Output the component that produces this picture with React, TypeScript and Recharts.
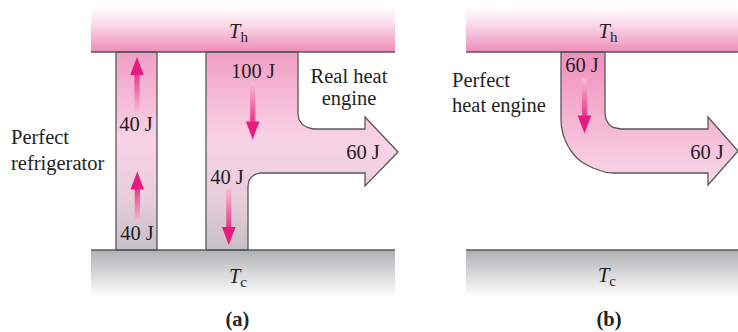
import { ComposedChart, Area, Line, Scatter, XAxis, YAxis } from 'recharts';

// Diagram space: x 0–738, y 0–332 (y grows downward).

type Band = { x: number; top: number; bottom: number };
type Pt = { x: number; y: number };
type Txt = { x: number; y: number; text: string; sub?: string };
type Arrow = { x: number; tail: number; tip: number };

// ─── Reservoirs ──────────────────────────────────────────────────────────────
const hotA: Band[] = [
  { x: 91, top: 6, bottom: 52 },
  { x: 395, top: 6, bottom: 52 },
];
const coldA: Band[] = [
  { x: 91, top: 250, bottom: 297 },
  { x: 395, top: 250, bottom: 297 },
];
const hotB: Band[] = [
  { x: 466, top: 6, bottom: 52 },
  { x: 738, top: 6, bottom: 52 },
];
const coldB: Band[] = [
  { x: 466, top: 250, bottom: 297 },
  { x: 738, top: 250, bottom: 297 },
];
const hotEdgeA: Pt[] = [{ x: 91, y: 52 }, { x: 395, y: 52 }];
const coldEdgeA: Pt[] = [{ x: 91, y: 250 }, { x: 395, y: 250 }];
const hotEdgeB: Pt[] = [{ x: 466, y: 52 }, { x: 738, y: 52 }];
const coldEdgeB: Pt[] = [{ x: 466, y: 250 }, { x: 738, y: 250 }];

// ─── Flow shapes (upper / lower outline at each x) ───────────────────────────
const fridge: Band[] = [
  { x: 116, top: 250, bottom: 250 },
  { x: 116, top: 52, bottom: 250 },
  { x: 157, top: 52, bottom: 250 },
  { x: 157, top: 250, bottom: 250 },
];

const realEngine: Band[] = [
  { x: 206, top: 250, bottom: 250 },
  { x: 206, top: 52, bottom: 250 },
  { x: 248, top: 52, bottom: 250 },
  { x: 248, top: 52, bottom: 186 },
  { x: 249, top: 52, bottom: 180.5 },
  { x: 251.5, top: 52, bottom: 177 },
  { x: 255, top: 52, bottom: 174.5 },
  { x: 260, top: 52, bottom: 173 },
  { x: 298, top: 52, bottom: 173 },
  { x: 298, top: 114, bottom: 173 },
  { x: 299, top: 119.5, bottom: 173 },
  { x: 302.5, top: 124.5, bottom: 173 },
  { x: 307.5, top: 127.5, bottom: 173 },
  { x: 313, top: 129, bottom: 173 },
  { x: 365, top: 129, bottom: 173 },
  { x: 365, top: 117, bottom: 186 },
  { x: 398, top: 152, bottom: 152 },
];

const perfectEngine: Band[] = [
  { x: 561, top: 120, bottom: 120 },
  { x: 561, top: 52, bottom: 120 },
  { x: 561.5, top: 52, bottom: 127 },
  { x: 563, top: 52, bottom: 134 },
  { x: 565, top: 52, bottom: 140 },
  { x: 568, top: 52, bottom: 146 },
  { x: 571.5, top: 52, bottom: 151.5 },
  { x: 576, top: 52, bottom: 157 },
  { x: 581, top: 52, bottom: 161.5 },
  { x: 587, top: 52, bottom: 165 },
  { x: 593, top: 52, bottom: 168 },
  { x: 600, top: 52, bottom: 170.5 },
  { x: 605, top: 52, bottom: 172 },
  { x: 605, top: 113, bottom: 172 },
  { x: 606, top: 119, bottom: 172.3 },
  { x: 609, top: 124.5, bottom: 172.7 },
  { x: 613, top: 127.5, bottom: 173 },
  { x: 621, top: 129, bottom: 173 },
  { x: 708, top: 129, bottom: 173 },
  { x: 708, top: 117, bottom: 185 },
  { x: 738, top: 151, bottom: 151 },
];

// ─── Small energy arrows ─────────────────────────────────────────────────────
const arrows: Arrow[] = [
  { x: 137, tail: 112, tip: 57 },
  { x: 137.3, tail: 222, tip: 171.5 },
  { x: 252.7, tail: 82.5, tip: 139.5 },
  { x: 228.8, tail: 189, tip: 245 },
  { x: 584.5, tail: 78, tip: 133.5 },
];

// ─── Texts ───────────────────────────────────────────────────────────────────
const sideLabels: Txt[] = [
  { x: 11, y: 144, text: 'Perfect' },
  { x: 11, y: 170, text: 'refrigerator' },
  { x: 452, y: 87, text: 'Perfect' },
  { x: 452, y: 112, text: 'heat engine' },
];
const flowLabels: Txt[] = [
  { x: 136, y: 131, text: '40 J' },
  { x: 137, y: 240, text: '40 J' },
  { x: 253, y: 78, text: '100 J' },
  { x: 349, y: 83, text: 'Real heat' },
  { x: 349, y: 105, text: 'engine' },
  { x: 227, y: 184, text: '40 J' },
  { x: 363, y: 159, text: '60 J' },
  { x: 582, y: 71.5, text: '60 J' },
  { x: 707, y: 159, text: '60 J' },
];
const tempLabels: Txt[] = [
  { x: 238.5, y: 38, text: 'T', sub: 'h' },
  { x: 608, y: 38, text: 'T', sub: 'h' },
  { x: 238, y: 283, text: 'T', sub: 'c' },
  { x: 607, y: 282, text: 'T', sub: 'c' },
];
const panelLabels: Txt[] = [
  { x: 237.5, y: 326, text: '(a)' },
  { x: 609, y: 326, text: '(b)' },
];

const W = 738;
const H = 332;
const FONT = "'Liberation Serif', 'Times New Roman', serif";
const INK = '#231f20';
const EDGE = '#58585a';
const MAGENTA = '#e8197f';
const SHAFT = 2.6;
const HEAD_W = 6.8;
const HEAD_L = 18;

const band = (d: Band) => [d.top, d.bottom];

function shaftOf(a: Arrow): Band[] {
  const down = a.tip > a.tail;
  const base = down ? a.tip - HEAD_L + 1 : a.tip + HEAD_L - 1;
  const top = Math.min(a.tail, base);
  const bottom = Math.max(a.tail, base);
  return [
    { x: a.x - SHAFT, top, bottom },
    { x: a.x + SHAFT, top, bottom },
  ];
}

function headOf(a: Arrow): Band[] {
  const down = a.tip > a.tail;
  const base = down ? a.tip - HEAD_L : a.tip + HEAD_L;
  return [
    { x: a.x - HEAD_W, top: base, bottom: base },
    { x: a.x, top: Math.min(base, a.tip), bottom: Math.max(base, a.tip) },
    { x: a.x + HEAD_W, top: base, bottom: base },
  ];
}

function makeText(anchor: 'start' | 'middle', bold = false) {
  return (props: any) => {
    const { cx, cy, payload } = props;
    return (
      <text
        x={cx}
        y={cy}
        textAnchor={anchor}
        fontFamily={FONT}
        fontSize={20.5}
        fontWeight={bold ? 'bold' : 'normal'}
        fill={INK}
      >
        {payload.sub ? (
          <>
            <tspan fontStyle="italic">{payload.text}</tspan>
            <tspan fontSize={15} dy={4}>
              {payload.sub}
            </tspan>
          </>
        ) : (
          payload.text
        )}
      </text>
    );
  };
}

export default function App() {
  const arrowMarks = arrows.flatMap((a, i) => {
    const down = a.tip > a.tail;
    return [
      <Area
        key={`shaft-${i}`}
        data={shaftOf(a)}
        dataKey={band}
        type="linear"
        stroke="none"
        fill={down ? 'url(#shaftDown)' : 'url(#shaftUp)'}
        fillOpacity={1}
        activeDot={false}
        isAnimationActive={false}
      />,
      <Area
        key={`head-${i}`}
        data={headOf(a)}
        dataKey={band}
        type="linear"
        stroke="none"
        fill={MAGENTA}
        fillOpacity={1}
        activeDot={false}
        isAnimationActive={false}
      />,
    ];
  });

  return (
    <div style={{ position: 'absolute', left: 0, top: 0, width: W, height: H, background: '#fff' }}>
      <ComposedChart width={W} height={H} margin={{ top: 0, right: 0, bottom: 0, left: 0 }}>
        <defs>
          <linearGradient id="hot" x1="0" y1="0" x2="0" y2="1">
            <stop offset="0" stopColor="#ffffff" />
            <stop offset="0.35" stopColor="#fbe1ed" />
            <stop offset="1" stopColor="#ee8cba" />
          </linearGradient>
          <linearGradient id="cold" x1="0" y1="0" x2="0" y2="1">
            <stop offset="0" stopColor="#b0b1b4" />
            <stop offset="1" stopColor="#ffffff" />
          </linearGradient>
          <linearGradient id="flowA" x1="0" y1="0" x2="0" y2="1">
            <stop offset="0" stopColor="#f29fc5" />
            <stop offset="0.45" stopColor="#f9d3e5" />
            <stop offset="0.75" stopColor="#e8cdd9" />
            <stop offset="1" stopColor="#c4c1c5" />
          </linearGradient>
          <linearGradient id="flowB" x1="0" y1="0" x2="0" y2="1">
            <stop offset="0" stopColor="#f08ebc" />
            <stop offset="0.55" stopColor="#f5b8d4" />
            <stop offset="1" stopColor="#fad8e8" />
          </linearGradient>
          <linearGradient id="shaftDown" x1="0" y1="0" x2="0" y2="1">
            <stop offset="0" stopColor="#f8bcd7" />
            <stop offset="1" stopColor="#e8368b" />
          </linearGradient>
          <linearGradient id="shaftUp" x1="0" y1="0" x2="0" y2="1">
            <stop offset="0" stopColor="#e8368b" />
            <stop offset="1" stopColor="#f8bcd7" />
          </linearGradient>
        </defs>

        <XAxis hide type="number" dataKey="x" domain={[0, W]} allowDataOverflow />
        <YAxis hide type="number" dataKey="y" domain={[0, H]} reversed allowDataOverflow />

        {/* reservoirs */}
        <Area data={hotA} dataKey={band} type="linear" stroke="none" fill="url(#hot)" fillOpacity={1} activeDot={false} isAnimationActive={false} />
        <Area data={coldA} dataKey={band} type="linear" stroke="none" fill="url(#cold)" fillOpacity={1} activeDot={false} isAnimationActive={false} />
        <Area data={hotB} dataKey={band} type="linear" stroke="none" fill="url(#hot)" fillOpacity={1} activeDot={false} isAnimationActive={false} />
        <Area data={coldB} dataKey={band} type="linear" stroke="none" fill="url(#cold)" fillOpacity={1} activeDot={false} isAnimationActive={false} />

        {/* energy flows */}
        <Area data={fridge} dataKey={band} type="linear" stroke={EDGE} strokeWidth={1.3} fill="url(#flowA)" fillOpacity={1} activeDot={false} isAnimationActive={false} />
        <Area data={realEngine} dataKey={band} type="linear" stroke={EDGE} strokeWidth={1.3} fill="url(#flowA)" fillOpacity={1} activeDot={false} isAnimationActive={false} />
        <Area data={perfectEngine} dataKey={band} type="linear" stroke={EDGE} strokeWidth={1.3} fill="url(#flowB)" fillOpacity={1} activeDot={false} isAnimationActive={false} />

        {arrowMarks}

        {/* reservoir edges */}
        <Line data={hotEdgeA} dataKey="y" type="linear" stroke={EDGE} strokeWidth={1.5} dot={false} activeDot={false} isAnimationActive={false} />
        <Line data={coldEdgeA} dataKey="y" type="linear" stroke={EDGE} strokeWidth={1.5} dot={false} activeDot={false} isAnimationActive={false} />
        <Line data={hotEdgeB} dataKey="y" type="linear" stroke={EDGE} strokeWidth={1.5} dot={false} activeDot={false} isAnimationActive={false} />
        <Line data={coldEdgeB} dataKey="y" type="linear" stroke={EDGE} strokeWidth={1.5} dot={false} activeDot={false} isAnimationActive={false} />

        {/* text */}
        <Scatter data={sideLabels} shape={makeText('start')} isAnimationActive={false} />
        <Scatter data={flowLabels} shape={makeText('middle')} isAnimationActive={false} />
        <Scatter data={tempLabels} shape={makeText('middle')} isAnimationActive={false} />
        <Scatter data={panelLabels} shape={makeText('middle', true)} isAnimationActive={false} />
      </ComposedChart>
    </div>
  );
}
